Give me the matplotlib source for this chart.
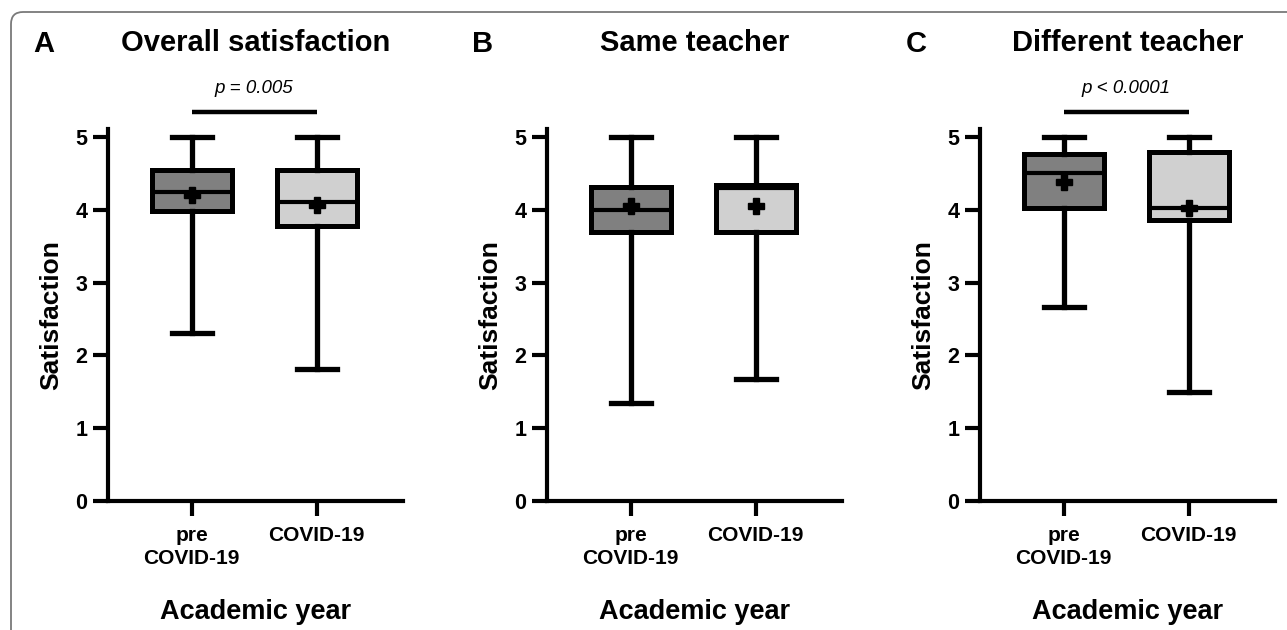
import matplotlib
matplotlib.use("Agg")
from matplotlib import pyplot as plt
from matplotlib.patches import FancyBboxPatch

plt.rcParams['font.family'] = ['Liberation Sans', 'DejaVu Sans']
plt.rcParams['font.weight'] = 'bold'

groups = ["pre\nCOVID-19", "COVID-19"]
fills = ["#808080", "#d0d0d0"]

panels = ["A", "B", "C"]
titles = ["Overall satisfaction", "Same teacher", "Different teacher"]
pvals = ["p = 0.005", None, "p < 0.0001"]

# box statistics per panel: [pre COVID-19, COVID-19]
whislo = [[2.31, 1.82], [1.34, 1.68], [2.67, 1.50]]
q1 = [[3.99, 3.78], [3.70, 3.70], [4.02, 3.86]]
med = [[4.24, 4.11], [4.00, 4.30], [4.50, 4.02]]
q3 = [[4.55, 4.55], [4.31, 4.34], [4.77, 4.80]]
whishi = [[5.0, 5.0], [5.0, 5.0], [5.0, 5.0]]
means = [[4.21, 4.06], [4.05, 4.05], [4.38, 4.03]]

W, H = 1287, 630
fig = plt.figure(figsize=(W / 100, H / 100), dpi=100)

# frame around the figure (cropped at right/bottom)
frame = FancyBboxPatch((11, -30), 1400, H - 12 + 30,
                       boxstyle="round,pad=0,rounding_size=12",
                       transform=None, facecolor="none",
                       edgecolor="#7a7a7a", linewidth=1.3)
fig.patches.append(frame)

lefts = [108, 547, 980]
ax_w = 295
ax_bot, ax_top = 501, 129

for k in range(3):
    ax = fig.add_axes([lefts[k] / W, (H - ax_bot) / H, ax_w / W, (ax_bot - ax_top) / H])
    stats = []
    for j in range(2):
        stats.append(dict(label=groups[j], whislo=whislo[k][j], q1=q1[k][j], med=med[k][j],
                          q3=q3[k][j], whishi=whishi[k][j], mean=means[k][j], fliers=[]))
    bp = ax.bxp(stats, positions=[1, 2], widths=0.64, patch_artist=True, showmeans=True,
                showfliers=False,
                boxprops=dict(linewidth=3.6, edgecolor="black"),
                whiskerprops=dict(linewidth=3.8, color="black"),
                capprops=dict(linewidth=3.8, color="black"),
                medianprops=dict(linewidth=3.0, color="black"),
                meanprops=dict(marker="P", markerfacecolor="black", markeredgecolor="black",
                               markersize=11),
                capwidths=0.32)
    for patch, c in zip(bp["boxes"], fills):
        patch.set_facecolor(c)

    ax.set_xlim(0.33, 2.69)
    ax.set_ylim(0, 5 + 8 / 72.8)
    ax.set_yticks([0, 1, 2, 3, 4, 5])
    ax.set_xticks([1, 2])
    ax.set_xticklabels(groups, fontsize=15, fontweight="bold", linespacing=1.25)
    for lab in ax.get_yticklabels():
        lab.set_fontsize(15.5)
        lab.set_fontweight("bold")
    ax.tick_params(axis="both", width=3, length=11, color="black")
    ax.tick_params(axis="x", pad=7)
    ax.tick_params(axis="y", pad=4)
    for s in ["top", "right"]:
        ax.spines[s].set_visible(False)
    for s in ["left", "bottom"]:
        ax.spines[s].set_linewidth(3)

    ax.set_ylabel("Satisfaction", fontsize=19, fontweight="bold", va="center")
    ax.yaxis.set_label_coords(-57 / ax_w, 0.5)
    ax.set_xlabel("Academic year", fontsize=19.5, fontweight="bold", va="center")
    ax.xaxis.set_label_coords(0.5, -(612 - ax_bot) / (ax_bot - ax_top))

    ax.text(0.5, 1 + (ax_top - 43) / (ax_bot - ax_top), titles[k], transform=ax.transAxes,
            ha="center", va="center", fontsize=21, fontweight="bold")
    ax.text(-64 / ax_w, 1 + (ax_top - 44) / (ax_bot - ax_top), panels[k], transform=ax.transAxes,
            ha="center", va="center", fontsize=21, fontweight="bold")

    if pvals[k]:
        ax.plot([1, 2], [5.34, 5.34], color="black", linewidth=3.2, clip_on=False,
                solid_capstyle="butt")
        ax.text(1.5, 5.66, pvals[k], ha="center", va="center", fontsize=13.5,
                fontweight="normal", style="italic")

fig.savefig("out.png", dpi=100)
